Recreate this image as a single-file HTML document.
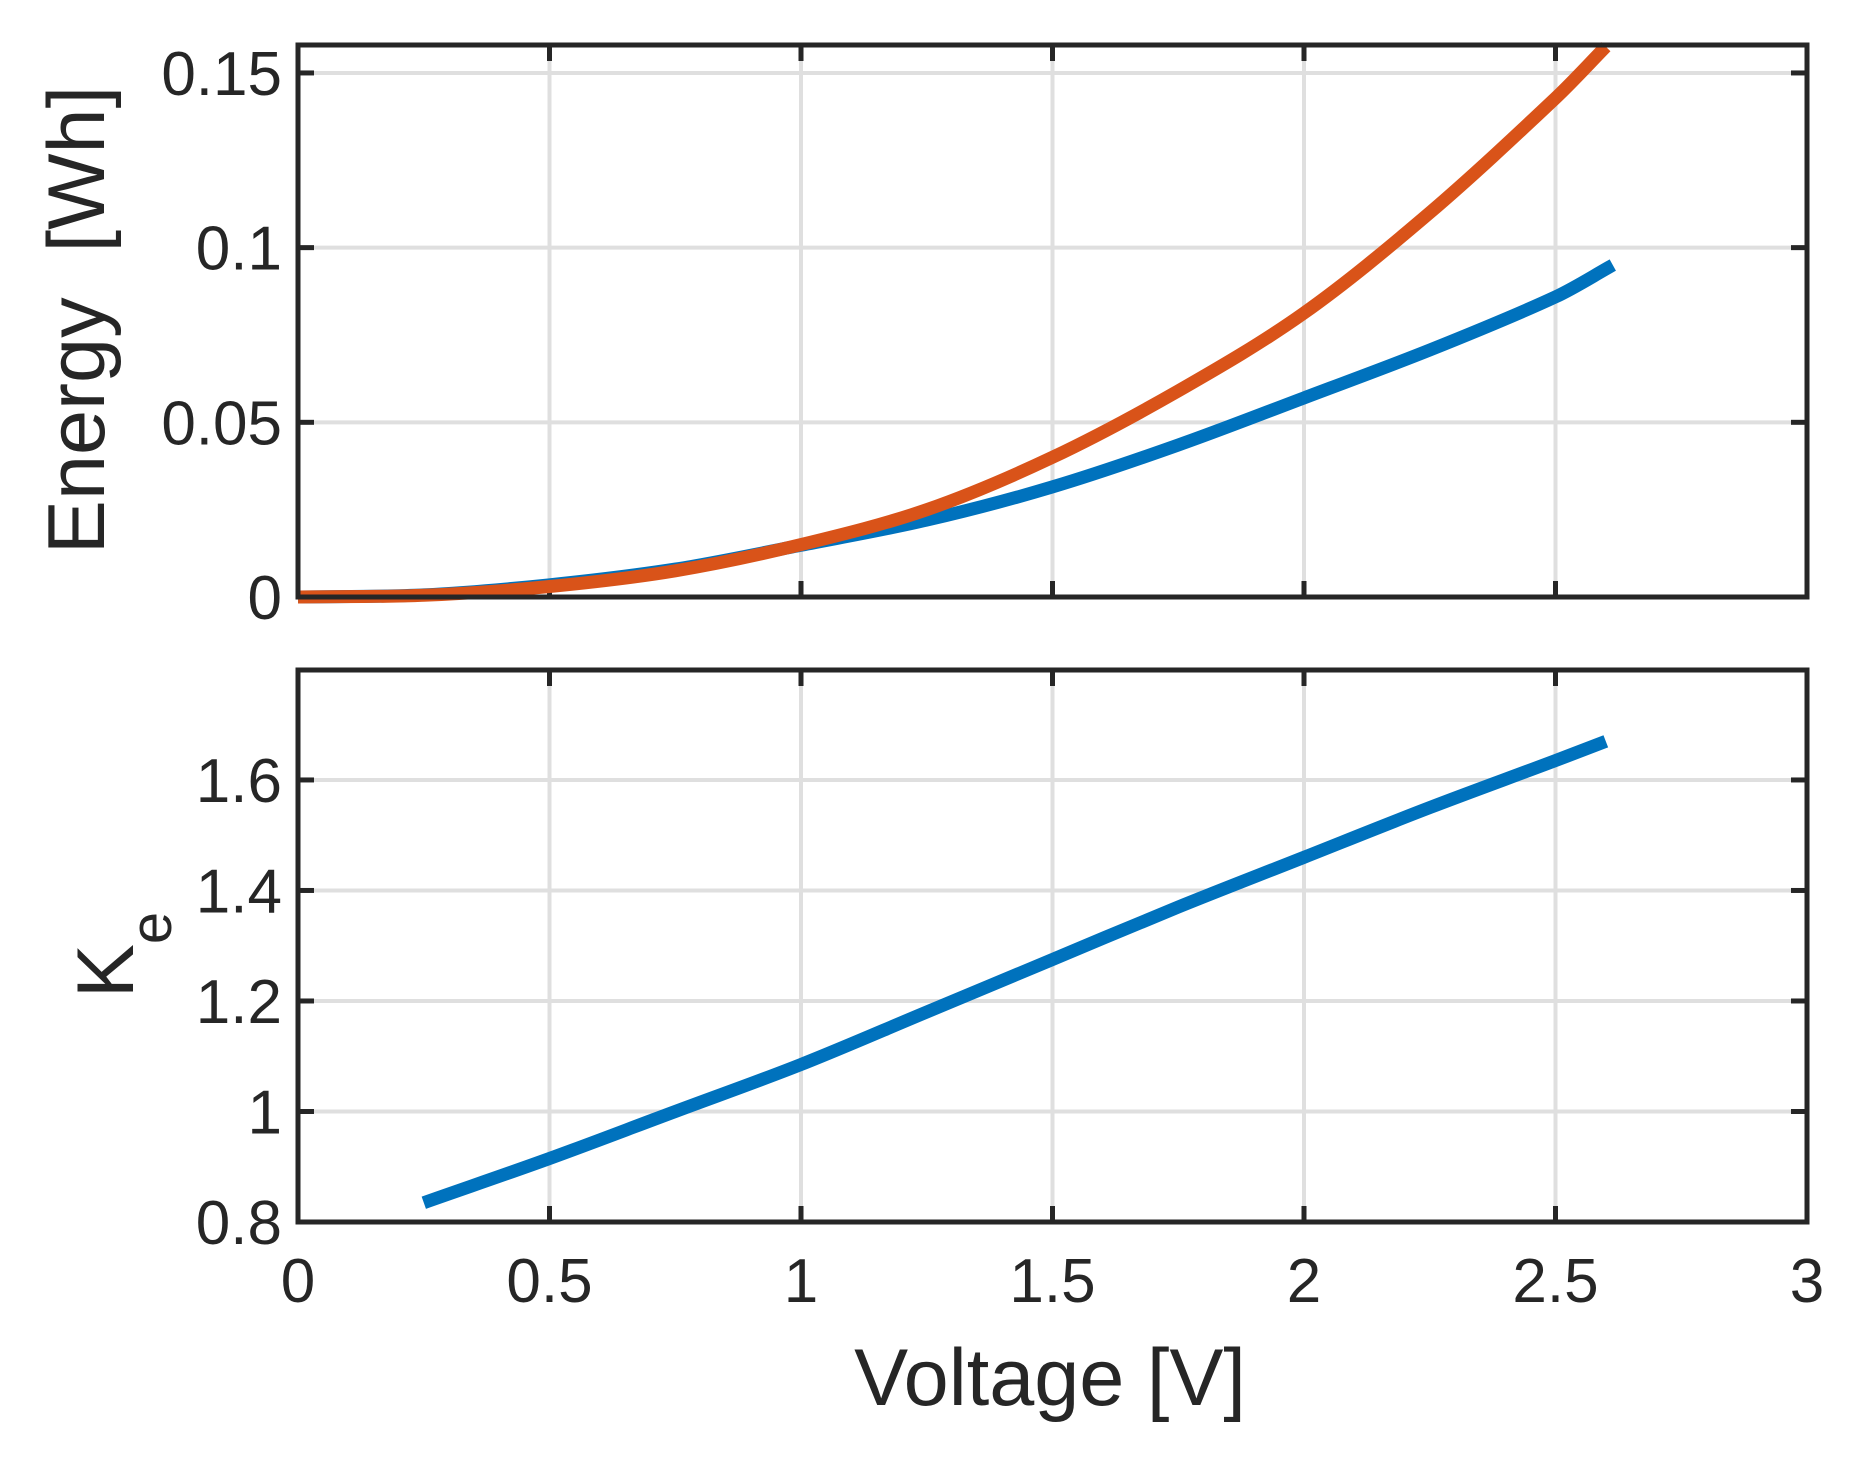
<!DOCTYPE html>
<html><head><meta charset="utf-8"><style>
html,body{margin:0;padding:0;background:#fff;}
svg{display:block;}
text{font-family:"Liberation Sans",Arial,sans-serif;fill:#262626;}
</style></head><body>
<svg id="chart" width="1859" height="1460" viewBox="0 0 1859 1460" xmlns="http://www.w3.org/2000/svg"></svg>
<script>
const voltage = [0, 0.25, 0.5, 0.75, 1, 1.25, 1.5, 1.75, 2, 2.25, 2.5, 2.614];
const energyBlue = [0, 0.0006, 0.0035, 0.008, 0.0148, 0.022, 0.0315, 0.0435, 0.057, 0.0707, 0.0859, 0.095];
const voltageOrange = [0, 0.25, 0.5, 0.75, 1, 1.25, 1.5, 1.75, 2, 2.25, 2.5, 2.6];
const energyOrange = [0, 0.0005, 0.003, 0.0075, 0.015, 0.025, 0.040, 0.059, 0.0813, 0.110, 0.1428, 0.1575];
const voltageKe = [0.25, 0.5, 0.75, 1, 1.25, 1.5, 1.75, 2, 2.25, 2.5, 2.6];
const keValues = [0.835, 0.915, 1.0, 1.085, 1.18, 1.275, 1.37, 1.46, 1.55, 1.635, 1.67];
const xTicks = [0, 0.5, 1, 1.5, 2, 2.5, 3];
const xTickLabels = ["0", "0.5", "1", "1.5", "2", "2.5", "3"];
const energyTicks = [0, 0.05, 0.1, 0.15];
const energyTickLabels = ["0", "0.05", "0.1", "0.15"];
const keTicks = [0.8, 1, 1.2, 1.4, 1.6];
const keTickLabels = ["0.8", "1", "1.2", "1.4", "1.6"];

const NS = "http://www.w3.org/2000/svg";
const svg = document.getElementById("chart");
const L = 298, R = 1807;
const top1 = 45, bot1 = 597, top2 = 670, bot2 = 1222;
const xMin = 0, xMax = 3;
const e0 = 0, e1 = 0.158;
const k0 = 0.8, k1 = 1.799;
function xs(v){ return L + (v - xMin) / (xMax - xMin) * (R - L); }
function ye(v){ return bot1 - (v - e0) / (e1 - e0) * (bot1 - top1); }
function yk(v){ return bot2 - (v - k0) / (k1 - k0) * (bot2 - top2); }
function mk(tag, attrs, parent){
  const el = document.createElementNS(NS, tag);
  for (const k in attrs) el.setAttribute(k, attrs[k]);
  (parent || svg).appendChild(el);
  return el;
}
function panel(name, top, bot, yTicks, yLabels, yf){
  const g = mk("g", {});
  
  
  xTicks.forEach(t => {
    const l = mk("line", {x1: xs(t), x2: xs(t), y1: top, y2: bot, stroke: "#dfdfdf", "stroke-width": 4}, g);
    
    
  });
  yTicks.forEach(t => {
    const l = mk("line", {x1: L, x2: R, y1: yf(t), y2: yf(t), stroke: "#dfdfdf", "stroke-width": 4}, g);
    
    
  });
  xTicks.forEach(t => {
    const a = mk("line", {x1: xs(t), x2: xs(t), y1: bot, y2: bot - 16, stroke: "#262626", "stroke-width": 5}, g);
    
    
    const b = mk("line", {x1: xs(t), x2: xs(t), y1: top, y2: top + 16, stroke: "#262626", "stroke-width": 5}, g);
    
    
  });
  yTicks.forEach((t, i) => {
    const a = mk("line", {x1: L, x2: L + 16, y1: yf(t), y2: yf(t), stroke: "#262626", "stroke-width": 5}, g);
    
    
    const b = mk("line", {x1: R, x2: R - 16, y1: yf(t), y2: yf(t), stroke: "#262626", "stroke-width": 5}, g);
    
    
    const tx = mk("text", {x: 282, y: yf(t) + 22, "text-anchor": "end", "font-size": 62}, g);
    tx.textContent = yLabels[i];
    
    
  });
  return g;
}
function frame(name, top, bot){
  const r = mk("rect", {x: L, y: top, width: R - L, height: bot - top, fill: "none", stroke: "#262626", "stroke-width": 5});
  
  
}
function series(name, xsArr, ysArr, yf, color){
  const P = xsArr.map((v, i) => [xs(v), yf(ysArr[i])]);
  let d = "M" + P[0][0].toFixed(1) + "," + P[0][1].toFixed(1);
  for (let i = 0; i < P.length - 1; i++) {
    const p0 = P[Math.max(0, i - 1)], p1 = P[i], p2 = P[i + 1], p3 = P[Math.min(P.length - 1, i + 2)];
    const h = p2[0] - p1[0];
    const m1 = (p2[1] - p0[1]) / (p2[0] - p0[0] || 1);
    const m2 = (p3[1] - p1[1]) / (p3[0] - p1[0] || 1);
    const c1 = [p1[0] + h / 3, p1[1] + m1 * h / 3];
    const c2 = [p2[0] - h / 3, p2[1] - m2 * h / 3];
    d += " C" + c1[0].toFixed(1) + "," + c1[1].toFixed(1) + " " + c2[0].toFixed(1) + "," + c2[1].toFixed(1) + " " + p2[0].toFixed(1) + "," + p2[1].toFixed(1);
  }
  const p = mk("path", {d: d, fill: "none", stroke: color, "stroke-width": 13, "stroke-linejoin": "round"});
  
  
}
panel("energy-axes", top1, bot1, energyTicks, energyTickLabels, ye);
series("energy-blue-line", voltage, energyBlue, ye, "#0072BD");
series("energy-orange-line", voltageOrange, energyOrange, ye, "#D95319");
frame("energy-axes-box", top1, bot1);
panel("ke-axes", top2, bot2, keTicks, keTickLabels, yk);
series("ke-line", voltageKe, keValues, yk, "#0072BD");
frame("ke-axes-box", top2, bot2);
xTicks.forEach((t, i) => {
  const tx = mk("text", {x: xs(t), y: 1302, "text-anchor": "middle", "font-size": 62});
  tx.textContent = xTickLabels[i];
  
  
});
</script>
<svg style="position:absolute;left:0;top:0;pointer-events:none" width="1859" height="1460">
<text x="1050" y="1405" text-anchor="middle" font-size="81">Voltage [V]</text>
<text transform="translate(104,320) rotate(-90)" text-anchor="middle" font-size="81" xml:space="preserve">Energy  [Wh]</text>
<text transform="translate(133,955) rotate(-90)" text-anchor="middle" font-size="81">K<tspan font-size="58" dy="38">e</tspan></text>
</svg>
</body></html>
